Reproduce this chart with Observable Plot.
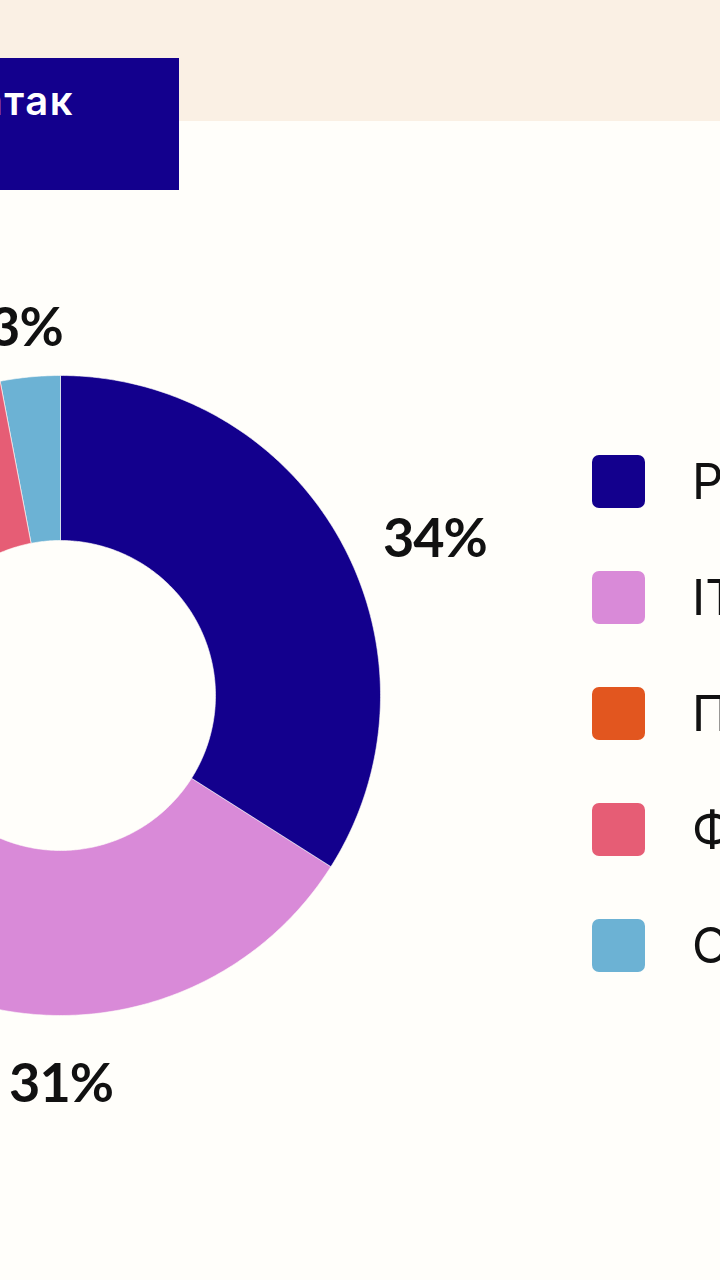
<!DOCTYPE html>
<html><head><meta charset="utf-8">
<script src="https://cdn.jsdelivr.net/npm/d3@7"></script>
<script src="https://cdn.jsdelivr.net/npm/@observablehq/plot@0.6"></script>
<style>
html,body{margin:0;padding:0;width:720px;height:1280px;overflow:hidden;background:#fffefa;font-family:Inter,"Noto Sans",sans-serif;}
#band{position:absolute;left:0;top:0;width:720px;height:121px;background:#faf0e4;}
#titlebox{position:absolute;left:0;top:58px;width:179px;height:132px;background:#13008d;overflow:hidden;}
#title{position:absolute;right:105px;top:23px;color:#fff;font-size:40px;line-height:40px;font-weight:600;letter-spacing:1.5px;white-space:nowrap;}
#chart{position:absolute;left:0;top:200px;}
#legend{position:absolute;left:0;top:0;width:720px;height:1280px;pointer-events:none;}
.item{position:absolute;left:592px;height:53px;display:flex;align-items:center;white-space:nowrap;font-size:49px;color:#111;}
.sw{width:53px;height:53px;border-radius:7px;margin-right:47px;flex:none;}
.pct text{letter-spacing:-1px;}
</style></head>
<body>
<div id="band"></div>
<div id="titlebox"><div id="title">Цели атак</div></div>
<div id="chart"></div>
<div id="legend"></div>
<script>
const categories = ["Ритейл", "IT", "Промышленность", "Финансы", "Остальные"];
const shares = [34, 31, 22, 10, 3];
const colors = ["#13008d", "#d98ad8", "#e2561f", "#e65d75", "#6cb2d4"];
const pctLabels = ["34%", "31%", "22%", "10%", "3%"];

const R_OUT = 320, R_IN = 155, R_LAB = 368;
const data = categories.map((c, i) => ({cat: c, share: shares[i], label: pctLabels[i]}));
const arcs = d3.pie().sort(null).value(d => d.share)(data);

const poly = [];
for (const a of arcs) {
  const n = Math.max(2, Math.ceil((a.endAngle - a.startAngle) / 0.01));
  for (let i = 0; i <= n; i++) {
    const t = a.startAngle + (a.endAngle - a.startAngle) * i / n;
    poly.push({cat: a.data.cat, x: R_OUT * Math.sin(t), y: R_OUT * Math.cos(t)});
  }
  for (let i = n; i >= 0; i--) {
    const t = a.startAngle + (a.endAngle - a.startAngle) * i / n;
    poly.push({cat: a.data.cat, x: R_IN * Math.sin(t), y: R_IN * Math.cos(t)});
  }
}
const labs = arcs.map(a => {
  const m = (a.startAngle + a.endAngle) / 2;
  const s = Math.sin(m), c = Math.cos(m);
  const side = s > 0.5 ? "right" : s < -0.5 ? "left" : c > 0 ? "top" : "bottom";
  return {label: a.data.label, x: R_LAB * s, y: R_LAB * c, side};
});
const tOpts = {x: "x", y: "y", text: "label", fontSize: 54, fontWeight: 700, fontFamily: "Lato, Inter, sans-serif", fill: "#111", className: "pct"};

const plot = Plot.plot({
  width: 720, height: 1080,
  marginTop: 0, marginRight: 0, marginBottom: 0, marginLeft: 0,
  style: {background: "none", overflow: "visible"},
  x: {domain: [-60, 660], axis: null},
  y: {domain: [-585, 495], axis: null},
  color: {domain: categories, range: colors},
  marks: [
    Plot.line(poly, {x: "x", y: "y", z: "cat", fill: "cat", stroke: "#fffefa", strokeWidth: 0.6, curve: "linear-closed"}),
    Plot.text(labs, {...tOpts, filter: d => d.side === "right", textAnchor: "start", lineAnchor: "top"}),
    Plot.text(labs, {...tOpts, filter: d => d.side === "left", textAnchor: "end", lineAnchor: "middle"}),
    Plot.text(labs, {...tOpts, filter: d => d.side === "top", textAnchor: "middle", lineAnchor: "middle"}),
    Plot.text(labs, {...tOpts, filter: d => d.side === "bottom", textAnchor: "middle", lineAnchor: "top", dx: -11})
  ]
});
document.getElementById("chart").append(plot);

const legend = document.getElementById("legend");
categories.forEach((c, i) => {
  const it = document.createElement("div");
  it.className = "item";
  it.style.top = (455 + i * 116) + "px";
  const sw = document.createElement("div");
  sw.className = "sw";
  sw.style.background = colors[i];
  const tx = document.createElement("span");
  tx.textContent = c;
  it.append(sw, tx);
  legend.append(it);
});
</script>
</body></html>
